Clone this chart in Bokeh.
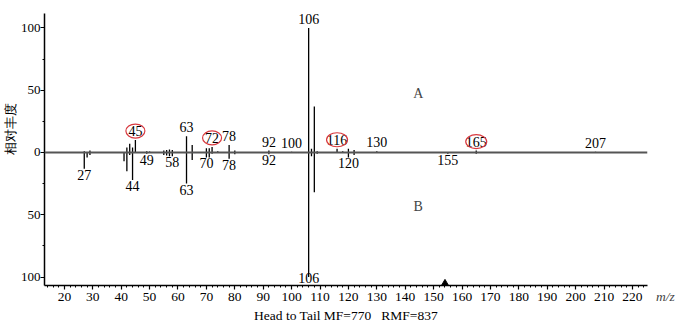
import math
from bokeh.plotting import figure
from bokeh.models import FixedTicker, Range1d, Label, Span, ColumnDataSource, Title
from bokeh.core.properties import value
from bokeh.embed import file_html
from bokeh.resources import INLINE

# ---- data ----
# spectrum A (upper, head)
mz_a = [27, 29, 42, 43, 44, 45, 49, 50, 55, 56, 57, 58, 63, 65, 70, 71, 72, 74,
        78, 80, 92, 100, 106, 107, 108, 109, 116, 118, 120, 122, 130, 165, 207]
int_a = [1, 1.5, 4, 7, 4, 10, 1, 0.8, 1.5, 2, 2.5, 2, 13, 6, 3.5, 3.5, 4.5, 1,
         6, 1.5, 1.5, 0.5, 100, 3, 37, 1, 3, 1, 3, 2, 1, 1.5, 0.5]
# spectrum B (lower, tail)
mz_b = [27, 28, 29, 41, 42, 43, 44, 49, 55, 56, 57, 58, 63, 65, 70, 71, 72,
        78, 80, 92, 106, 107, 108, 109, 120, 122, 155, 165]
int_b = [13, 4, 2, 7, 15, 2, 22, 1, 2, 2.5, 3, 3, 25, 6, 4, 4, 1,
         5, 1.5, 1.5, 100, 3, 32, 1, 4, 2, 1, 1]
labels_a = [45, 63, 72, 78, 92, 100, 106, 116, 130, 165, 207]
labels_b = [27, 44, 49, 58, 63, 70, 78, 92, 106, 120, 155]
circled = [45, 72, 116, 165]
marker_mz = [154]
y_ticks = [-100, -50, 0, 50, 100]
y_minor = [-75, -25, 25, 75]
x_ticks = list(range(20, 230, 10))
x_minor = list(range(14, 226, 2))
title_text = "Head to Tail MF=770\u00a0\u00a0\u00a0RMF=837"
ylabel_text = "相对丰度"

# ---- layout ----
W, H = 680, 328
ML, MR, MT, MB = 42, 33, 13, 43
x_start, x_end = 13.0, 225.3
y_start, y_end = -106.8, 111.6
fh = H - MT - MB
fw = W - ML - MR
ys = fh / (y_end - y_start)   # px per intensity unit
xs = fw / (x_end - x_start)   # px per m/z unit
fb = H - MB                   # frame bottom in canvas pixels

def y_of(py):                 # canvas pixel row -> intensity value
    return (fb - py) / ys + y_start

def x_of(px):                 # canvas pixel column -> m/z value
    return (px - ML) / xs + x_start

SERIF = "Liberation Serif"

p = figure(width=W, height=H, output_backend="svg", toolbar_location=None,
           x_range=Range1d(x_start, x_end), y_range=Range1d(y_start, y_end),
           min_border_left=ML, min_border_right=MR, min_border_top=MT,
           min_border_bottom=MB)
p.outline_line_color = None
p.grid.visible = False
p.background_fill_color = "white"
p.border_fill_color = "white"

for ax in (p.xaxis[0], p.yaxis[0]):
    ax.axis_line_color = "black"
    ax.axis_line_width = 1.5
    ax.major_tick_line_color = "black"
    ax.minor_tick_line_color = "black"
    ax.major_tick_line_width = 1.2
    ax.minor_tick_line_width = 1
    ax.major_label_text_font = SERIF
    ax.major_label_text_font_size = "13.5px"
    ax.major_label_text_color = "black"

p.xaxis.ticker = FixedTicker(ticks=x_ticks, minor_ticks=x_minor)
p.xaxis.major_tick_in = 0
p.xaxis.major_tick_out = 4
p.xaxis.minor_tick_in = 0
p.xaxis.minor_tick_out = 2
p.xaxis.major_label_standoff = 3
p.xaxis.axis_label = title_text
p.xaxis.axis_label_text_font = SERIF
p.xaxis.axis_label_text_font_style = "normal"
p.xaxis.axis_label_text_font_size = "13.5px"
p.xaxis.axis_label_text_color = "black"
p.xaxis.axis_label_standoff = 4

p.yaxis.ticker = FixedTicker(ticks=y_ticks, minor_ticks=y_minor)
p.yaxis.major_label_overrides = {t: str(abs(t)) for t in y_ticks}
p.yaxis.major_tick_in = 0
p.yaxis.major_tick_out = 4
p.yaxis.minor_tick_in = 0
p.yaxis.minor_tick_out = 2
p.yaxis.major_label_standoff = 0
p.yaxis.major_label_text_font_size = "13px"

# y title on the left, placed from the top of the frame
p.add_layout(Title(text=ylabel_text, align="right", offset=89, standoff=0,
                   text_font=SERIF, text_font_size="13px",
                   text_font_style="normal", text_color="black"), "left")

# m/z beside the end of the x axis (side-panel label, not clipped)
p.add_layout(Label(x=x_of(665), y=y_of(296), text="m/z", text_font=SERIF,
                   text_font_style="italic", text_font_size="13.5px",
                   text_align="center", text_baseline="middle"), "right")

# baseline
p.add_layout(Span(location=0, dimension="width", line_color="#555555", line_width=2))

# peaks
src_a = ColumnDataSource(dict(x=mz_a, y0=[0] * len(mz_a), y1=int_a))
src_b = ColumnDataSource(dict(x=mz_b, y0=[0] * len(mz_b), y1=[-v for v in int_b]))
p.segment(x0="x", y0="y0", x1="x", y1="y1", source=src_a, line_color="black", line_width=1.3)
p.segment(x0="x", y0="y0", x1="x", y1="y1", source=src_b, line_color="black", line_width=1.3)

da = dict(zip(mz_a, int_a))
db = dict(zip(mz_b, int_b))
la_y = [da.get(m, 0) for m in labels_a]
lb_y = [-min(db.get(m, 0), 96) for m in labels_b]
p.text(x=labels_a, y=la_y, text=[str(m) for m in labels_a], text_align="center",
       text_baseline="bottom", y_offset=-4, text_font=value(SERIF),
       text_font_size="14px", text_color="black")
p.text(x=labels_b, y=lb_y, text=[str(m) for m in labels_b], text_align="center",
       text_baseline="top", y_offset=1, text_font=value(SERIF),
       text_font_size="14px", text_color="black")

# red circles round some labels
cx = circled
cy = [da.get(m, 0) + 9 / ys for m in circled]
p.ellipse(x=cx, y=cy, width=[21 if m >= 100 else 19 for m in circled],
          height=14, width_units="screen", height_units="screen",
          fill_color=None, line_color="#d8383e", line_width=1.2)

# marker on the axis
p.scatter(x=marker_mz, y=[y_start + 1.5 / ys] * len(marker_mz), marker="triangle",
          size=8, color="black")

# A / B
p.add_layout(Label(x=144.6, y=47.4, text="A", text_font=SERIF, text_font_size="14px",
                   text_align="center", text_baseline="middle"))
p.add_layout(Label(x=144.6, y=-43, text="B", text_font=SERIF, text_font_size="14px",
                   text_align="center", text_baseline="middle"))

open("out.html", "w").write(file_html(p, INLINE))
